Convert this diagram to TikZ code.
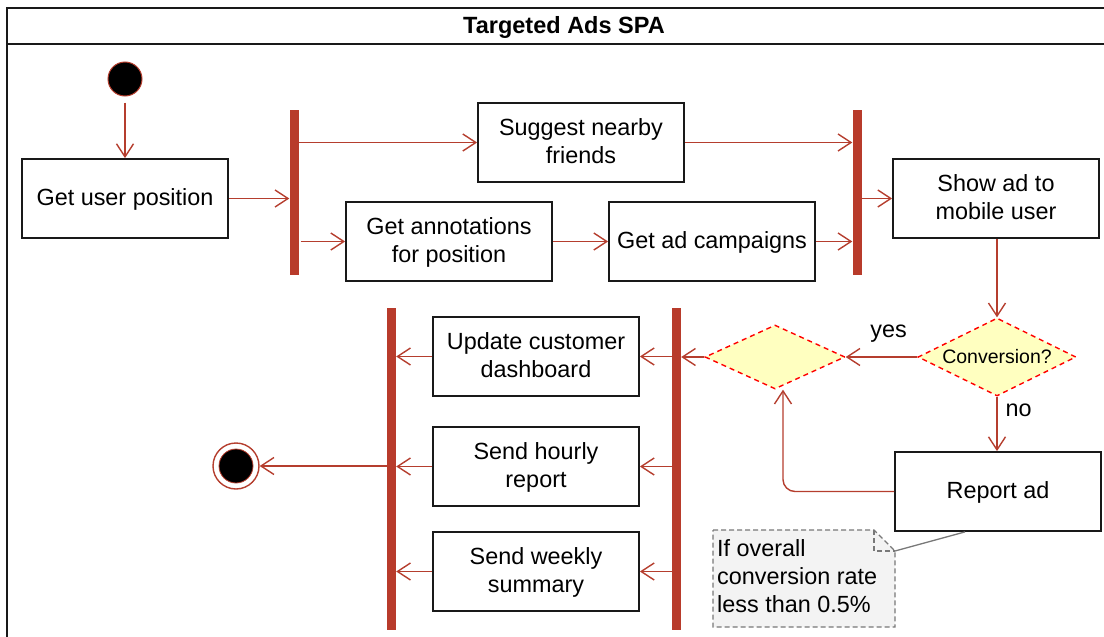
\documentclass[tikz,border=0pt]{standalone}
\usepackage{fontspec}
\setmainfont{Liberation Sans}
\usetikzlibrary{arrows.meta,shapes.geometric}
\definecolor{arrc}{RGB}{181,62,46}
\definecolor{barc}{RGB}{184,59,43}
\definecolor{boxc}{RGB}{25,25,25}
\definecolor{dfill}{RGB}{255,255,192}
\definecolor{nfill}{RGB}{243,243,243}
\definecolor{ndraw}{RGB}{120,120,120}
\newcommand{\mainf}{\fontsize{23.4}{28}\selectfont}
\tikzset{
  box/.style={draw=boxc, line width=1.8pt, minimum width=206pt, minimum height=79pt, align=center, font=\mainf, inner sep=0pt, text depth=2pt},
  bar/.style={fill=barc, draw=none, minimum width=9pt, inner sep=0pt},
  arr/.style={draw=arrc, line width=1.4pt, -{Straight Barb[length=13pt,width=17pt,line width=1.4pt]}},
  dec/.style={diamond, aspect=2.03, draw=red, fill=dfill, dashed, dash pattern=on 5pt off 4pt, line width=1.4pt, inner sep=0pt},
  lbl/.style={font=\mainf, inner sep=0pt},
}
\begin{document}
\begin{tikzpicture}[x=1pt,y=-1pt]
\useasboundingbox (0,0) rectangle (1104,637);
% frame
\draw[line width=2pt, boxc] (1110,8) -- (7,8) -- (7,640);
\draw[line width=2pt, boxc] (7,44) -- (1110,44);
\node[font=\bfseries\fontsize{23.5}{27}\selectfont, inner sep=0pt] (title) at (564,27) {Targeted Ads SPA};
% initial
\node[circle, fill=black, draw=arrc, line width=1pt, minimum size=34pt, inner sep=0pt] (init) at (125,79) {};
% boxes
\node[box] (gup) at (125,198.5) {Get user position};
\node[box] (sug) at (581,142.5) {Suggest nearby\\friends};
\node[box] (ann) at (449,241.5) {Get annotations\\for position};
\node[box] (camp) at (712,241.5) {Get ad campaigns};
\node[box] (show) at (996,198.5) {Show ad to\\mobile user};
\node[box] (rep) at (998,491.5) {Report ad};
\node[box] (upd) at (536,356.5) {Update customer\\dashboard};
\node[box] (hr) at (536,466.5) {Send hourly\\report};
\node[box] (wk) at (536,571.5) {Send weekly\\summary};
% bars
\node[bar, minimum height=165pt] (bar1) at (294,192.5) {};
\node[bar, minimum height=165pt] (bar2) at (857,192.5) {};
\node[bar, minimum height=322pt] (bar3) at (676.5,469) {};
\node[bar, minimum height=322pt] (bar4) at (391.5,469) {};
% decisions
\node[dec, minimum width=158pt, minimum height=78pt, font=\fontsize{19.5}{22}\selectfont] (conv) at (997,357) {Conversion?};
\node[dec, minimum width=140pt, minimum height=64pt] (merge) at (775,357) {};
% final
\node[circle, fill=white, draw=arrc, line width=1.4pt, minimum size=46pt, inner sep=0pt] (fin) at (236,466) {};
\node[circle, fill=black, draw=arrc, line width=0.8pt, minimum size=34pt, inner sep=0pt] (finin) at (236,466) {};
% connectors
\draw[arr, shorten <=6pt] (init) -- (gup.north);
\draw[arr] (gup.east) -- (gup.east -| bar1.west);
\draw[arr] (bar1.east |- sug.west) -- (sug.west);
\draw[arr, shorten <=2pt] (bar1.east |- ann.west) -- (ann.west);
\draw[arr] (ann.east) -- (camp.west);
\draw[arr] (sug.east) -- (sug.east -| bar2.west);
\draw[arr] (camp.east) -- (camp.east -| bar2.west);
\draw[arr] (bar2.east |- show.west) -- (show.west);
\draw[arr] (show.south -| conv.north) -- (conv.north);
\draw[arr] (conv.west) -- (merge.east) node[lbl, pos=0.4, above=14pt] (yes) {yes};
\draw[arr] (conv.south) -- (conv.south |- rep.north) node[lbl, pos=0.25, right=8pt] (no) {no};
\draw[arr, rounded corners=12pt] (rep.west) -| ([xshift=8pt]merge.south);
\draw[arr] (merge.west) -- (merge.west -| bar3.east);
\draw[arr] (bar3.west |- upd.east) -- (upd.east);
\draw[arr] (bar3.west |- hr.east) -- (hr.east);
\draw[arr] (bar3.west |- wk.east) -- (wk.east);
\draw[arr] (upd.west) -- (upd.west -| bar4.east);
\draw[arr] (hr.west) -- (hr.west -| bar4.east);
\draw[arr] (wk.west) -- (wk.west -| bar4.east);
\draw[arr] (bar4.west |- fin.east) -- (fin.east);
% note
\draw[draw=ndraw, fill=nfill, dashed, dash pattern=on 5pt off 3pt, line width=1.3pt]
  (713,530) -- (874,530) -- (895,551) -- (895,627) -- (713,627) -- cycle;
\draw[draw=ndraw, dashed, dash pattern=on 5pt off 3pt, line width=1.3pt]
  (874,530) -- (874,551) -- (895,551);
\node[anchor=north west, align=left, font=\mainf, inner sep=0pt] (note) at (717,539) {If overall\\conversion rate\\less than 0.5\%};
\coordinate (notec) at (895,551);
\draw[ndraw, line width=1.3pt] (notec) -- ([xshift=-33pt]rep.south);
\end{tikzpicture}
\end{document}
